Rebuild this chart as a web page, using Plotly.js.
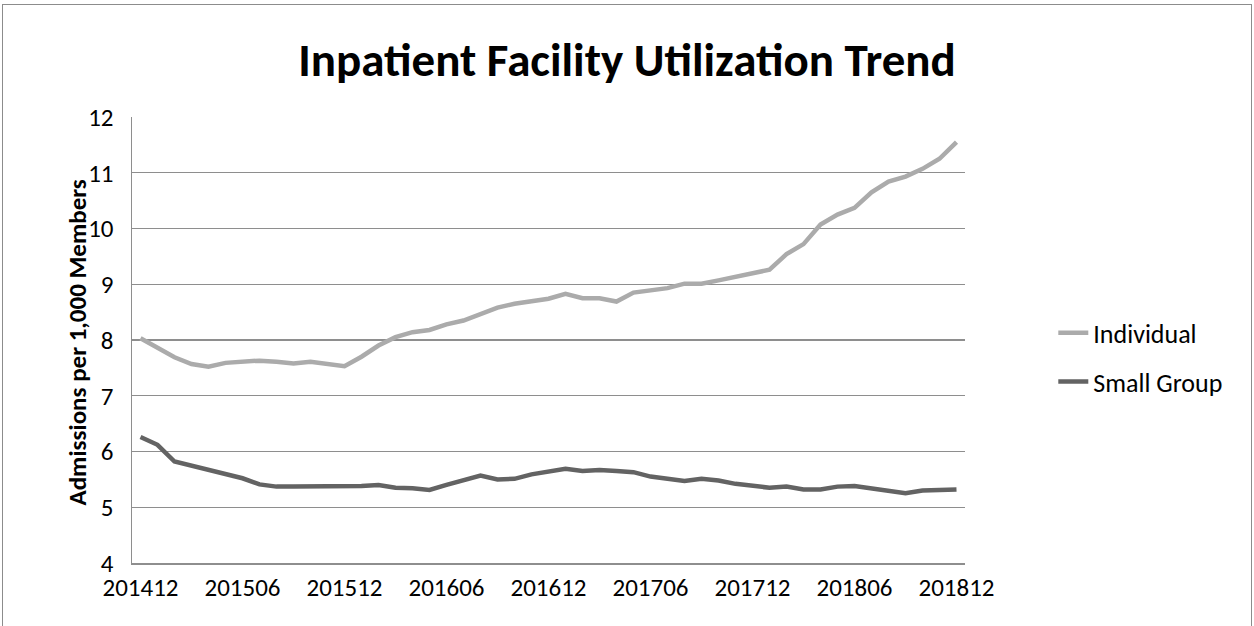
<!DOCTYPE html>
<html>
<head>
<meta charset="utf-8">
<script src="https://cdn.plot.ly/plotly-3.0.1.min.js"></script>
<style>
  html, body { margin: 0; padding: 0; background: #ffffff; }
  #chart { position: absolute; left: 0; top: 0; width: 1254px; height: 626px; }
  #frame { position: absolute; left: 2px; top: 4px; width: 1248px; height: 640px;
           border: 1px solid #8c8c8c; pointer-events: none; }
</style>
</head>
<body>
<div id="chart"></div>
<div id="frame"></div>
<script>
const months = ["201412","201501","201502","201503","201504","201505","201506","201507","201508","201509","201510","201511",
  "201512","201601","201602","201603","201604","201605","201606","201607","201608","201609","201610","201611",
  "201612","201701","201702","201703","201704","201705","201706","201707","201708","201709","201710","201711",
  "201712","201801","201802","201803","201804","201805","201806","201807","201808","201809","201810","201811","201812"];

const individual = [8.03,7.85,7.69,7.57,7.52,7.59,7.61,7.63,7.61,7.58,7.61,7.58,
  7.53,7.70,7.90,8.05,8.14,8.18,8.28,8.35,8.47,8.58,8.65,8.70,
  8.74,8.83,8.75,8.75,8.69,8.85,8.89,8.93,9.01,9.01,9.07,9.14,
  9.19,9.26,9.54,9.72,10.07,10.25,10.37,10.65,10.84,10.93,11.07,11.25,11.55];

const smallGroup = [6.26,6.12,5.82,5.74,5.66,5.60,5.52,5.41,5.37,5.37,5.37,5.38,
  5.38,5.38,5.40,5.35,5.34,5.31,5.40,5.49,5.57,5.50,5.51,5.59,
  5.63,5.69,5.65,5.67,5.65,5.63,5.55,5.50,5.47,5.51,5.48,5.42,
  5.38,5.35,5.37,5.32,5.32,5.37,5.38,5.34,5.30,5.25,5.30,5.31,5.32];

const tickLabels = ["201412","201506","201512","201606","201612","201706","201712","201806","201812"];
const yTicks = [4,5,6,7,8,9,10,11,12];
const yTitle = "Admissions per 1,000 Members";

const FONT = "Carlito, Calibri, Lato, 'Open Sans', sans-serif";

const traces = [
  { x: months, y: individual, name: "Individual", type: "scatter", mode: "lines",
    legendgroup: "a", line: { color: "#ababab", width: 4.5 } },
  { x: months, y: smallGroup, name: "Small Group", type: "scatter", mode: "lines",
    legendgroup: "b", line: { color: "#636363", width: 4.5 } }
];

const layout = {
  width: 1254, height: 626,
  margin: { l: 132, r: 289, t: 117, b: 63 },
  paper_bgcolor: "#ffffff", plot_bgcolor: "#ffffff",
  font: { family: FONT, size: 25, color: "#000000" },
  title: { text: "<b>Inpatient Facility Utilization Trend</b>",
           font: { family: FONT, size: 47, color: "#000000" },
           x: 0.5, xref: "container", xanchor: "center", y: 0.905, yref: "container", yanchor: "middle" },
  xaxis: {
    type: "category", range: [-0.5, 48.5],
    tickvals: tickLabels, ticktext: tickLabels,
    showgrid: false, zeroline: false,
    showline: true, linecolor: "#8e8e8e", linewidth: 1.5,
    ticks: "", ticklen: 0, ticklabelstandoff: 1,
    tickfont: { family: FONT, size: 25, color: "#000000" }
  },
  yaxis: {
    range: [4, 12], tickvals: yTicks,
    showgrid: true, gridcolor: "#8e8e8e", gridwidth: 1.3,
    zeroline: false, showline: true, linecolor: "#8e8e8e", linewidth: 1.5,
    ticks: "", ticklen: 0, ticklabelstandoff: 12,
    tickfont: { family: FONT, size: 25, color: "#000000" }
  },
  annotations: [{
    text: "<b>" + yTitle + "</b>", textangle: -90,
    xref: "paper", yref: "paper", x: -0.0655, y: 0.4955,
    xanchor: "center", yanchor: "middle", showarrow: false,
    font: { family: FONT, size: 25, color: "#000000" }
  }],
  showlegend: true,
  legend: {
    x: 1.106, xanchor: "left", y: 0.461, yanchor: "middle",
    font: { family: FONT, size: 26, color: "#000000" },
    tracegroupgap: 12, bgcolor: "rgba(0,0,0,0)"
  }
};

Plotly.newPlot("chart", traces, layout, { displayModeBar: false, staticPlot: true });
</script>
</body>
</html>
